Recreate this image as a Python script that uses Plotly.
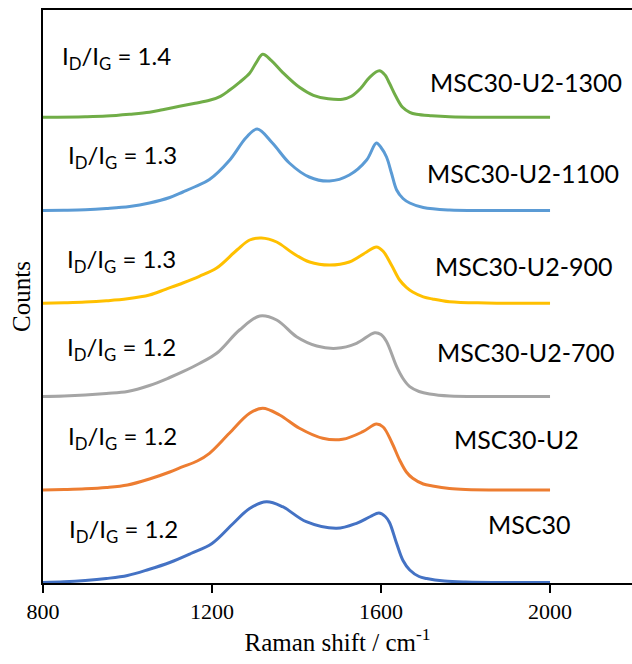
import plotly.graph_objects as go

# ---- data ----
names = ["MSC30", "MSC30-U2", "MSC30-U2-700", "MSC30-U2-900", "MSC30-U2-1100", "MSC30-U2-1300"]
ratios = ["1.2", "1.2", "1.2", "1.3", "1.3", "1.4"]
colors = ["#4472C4", "#ED7D31", "#A5A5A5", "#FFC000", "#5B9BD5", "#70AD47"]
offsets = [0.5, 93, 186.5, 279.7, 372.5, 465.7]

x_msc30 = [800, 850, 900, 950, 1000, 1050, 1100, 1150, 1200, 1250, 1289, 1329, 1367, 1423, 1495, 1542, 1575, 1595, 1610, 1620, 1637, 1652, 1668, 1690, 1708, 1750, 1800, 1900, 2000]
y_msc30 = [0, 0.7, 2, 4, 7, 13, 20, 29, 39, 59, 74, 80.8, 75.8, 60.8, 54.2, 59.2, 66, 69.5, 66, 60, 39, 22, 12.5, 6, 4, 1.5, 0.5, 0, 0]

x_u2 = [800, 850, 900, 950, 1000, 1052, 1100, 1131, 1165, 1194, 1241, 1289, 1320, 1360, 1407, 1462, 1509, 1557, 1589, 1605, 1625, 1644, 1660, 1675, 1700, 1722, 1762, 1800, 1900, 2000]
y_u2 = [0, 0.5, 1.2, 2.5, 5, 11, 18, 23.3, 29, 36.7, 56.7, 76.7, 81.7, 75, 61.7, 51.7, 50.7, 58.3, 66, 63, 48, 30, 18, 11.7, 6, 4, 1.5, 0.5, 0, 0]

x_700 = [800, 850, 900, 950, 1000, 1052, 1100, 1131, 1170, 1211, 1265, 1313, 1353, 1400, 1448, 1495, 1542, 1585, 1600, 1613, 1637, 1652, 1668, 1690, 1715, 1762, 1850, 2000]
y_700 = [0, 0.5, 1.5, 3, 5, 11, 19, 24.8, 33, 43.2, 66.5, 80.5, 76.5, 59.8, 50.5, 48.2, 53.2, 63.8, 62, 55, 29.8, 18, 9.8, 5, 2.5, 0.5, 0, 0]

x_900 = [800, 850, 900, 950, 1000, 1052, 1090, 1131, 1170, 1211, 1259, 1289, 1317, 1353, 1391, 1431, 1478, 1525, 1566, 1589, 1605, 1625, 1644, 1660, 1675, 1700, 1722, 1762, 1850, 2000]
y_900 = [0, 0.5, 1.2, 2.5, 4.5, 8.3, 14, 20.3, 27, 35.3, 53.3, 63.3, 65.3, 61.3, 50.3, 41.3, 38.3, 41.3, 51.3, 56.3, 52, 38, 23.3, 16, 11.3, 6.5, 4.3, 1.5, 0.3, 0]

x_1100 = [800, 850, 900, 950, 1005, 1052, 1100, 1131, 1161, 1194, 1241, 1281, 1307, 1343, 1383, 1430, 1478, 1525, 1566, 1589, 1600, 1613, 1625, 1637, 1652, 1668, 1700, 1762, 1850, 2000]
y_1100 = [0, 0.3, 0.8, 2, 4, 7.5, 13, 18.5, 24, 31, 50, 73, 81.5, 67.5, 47.5, 33.5, 29.5, 35.5, 50.5, 67.5, 63, 53.5, 37, 20.5, 12, 7.5, 3, 0.5, 0, 0]

x_1300 = [800, 900, 950, 1005, 1052, 1083, 1123, 1160, 1194, 1220, 1241, 1265, 1289, 1305, 1320, 1340, 1367, 1407, 1440, 1475, 1509, 1530, 1552, 1573, 1596, 1610, 1620, 1635, 1651, 1668, 1684, 1720, 1762, 1850, 2000]
y_1300 = [0, 0.5, 1.2, 3, 5, 7.5, 11, 14, 17, 21, 27, 35, 44, 55, 63, 57, 45, 30, 22, 18.5, 18, 21, 29, 40, 46.5, 42, 34, 21, 10, 5, 3, 1.5, 0.5, 0, 0]

xs = [x_msc30, x_u2, x_700, x_900, x_1100, x_1300]
ys = [y_msc30, y_u2, y_700, y_900, y_1100, y_1300]

x_ticks = [800, 1200, 1600, 2000]

# annotation positions (data coords)
ratio_pos = [(857, 53), (854, 146), (852, 235), (852, 323), (854, 427), (840, 526)]
name_pos = [(1950, 59), (1920, 144), (1942, 231), (1938, 317), (1936, 410), (1942, 501)]

fig = go.Figure()
for xv, yv, off, col, nm in zip(xs, ys, offsets, colors, names):
    fig.add_trace(go.Scatter(
        x=xv, y=[v + off for v in yv], mode="lines", name=nm,
        line=dict(color=col, width=3, shape="spline", smoothing=1.0),
        showlegend=False, hoverinfo="skip"))

label_font = dict(family="Lato, Calibri, sans-serif", size=24, color="black")
for (px, py), r in zip(ratio_pos, ratios):
    fig.add_annotation(x=px, y=py, xref="x", yref="y",
                       text=f"I<sub>D</sub>/I<sub>G</sub> = {r}",
                       showarrow=False, xanchor="left", yanchor="middle",
                       font=label_font)
for (px, py), nm in zip(name_pos, names):
    fig.add_annotation(x=px, y=py, xref="x", yref="y", text=nm,
                       showarrow=False, xanchor="center", yanchor="middle",
                       font=dict(family="Lato, Calibri, sans-serif", size=25, color="black"))

fig.update_layout(
    width=632, height=664,
    margin=dict(l=43, r=0, t=10, b=81),
    paper_bgcolor="white", plot_bgcolor="white",
    xaxis=dict(range=[800, 2194], tickvals=x_ticks, ticktext=[str(t) for t in x_ticks],
               ticks="outside", ticklen=8, tickwidth=1.5, tickcolor="black",
               showline=True, linecolor="black", linewidth=1.5, mirror=True,
               showgrid=False, zeroline=False,
               tickfont=dict(family="Liberation Serif, Times New Roman, serif", size=22, color="black"),
               title=dict(text="Raman shift / cm<sup>-1</sup>", standoff=8,
                          font=dict(family="Liberation Serif, Times New Roman, serif", size=25, color="black"))),
    yaxis=dict(range=[0, 573], showticklabels=False, ticks="",
               showline=True, linecolor="black", linewidth=1.5,
               showgrid=False, zeroline=False,
               title=dict(text="Counts", standoff=4,
                          font=dict(family="Liberation Serif, Times New Roman, serif", size=25, color="black"))),
)

fig.write_html("out.html")
